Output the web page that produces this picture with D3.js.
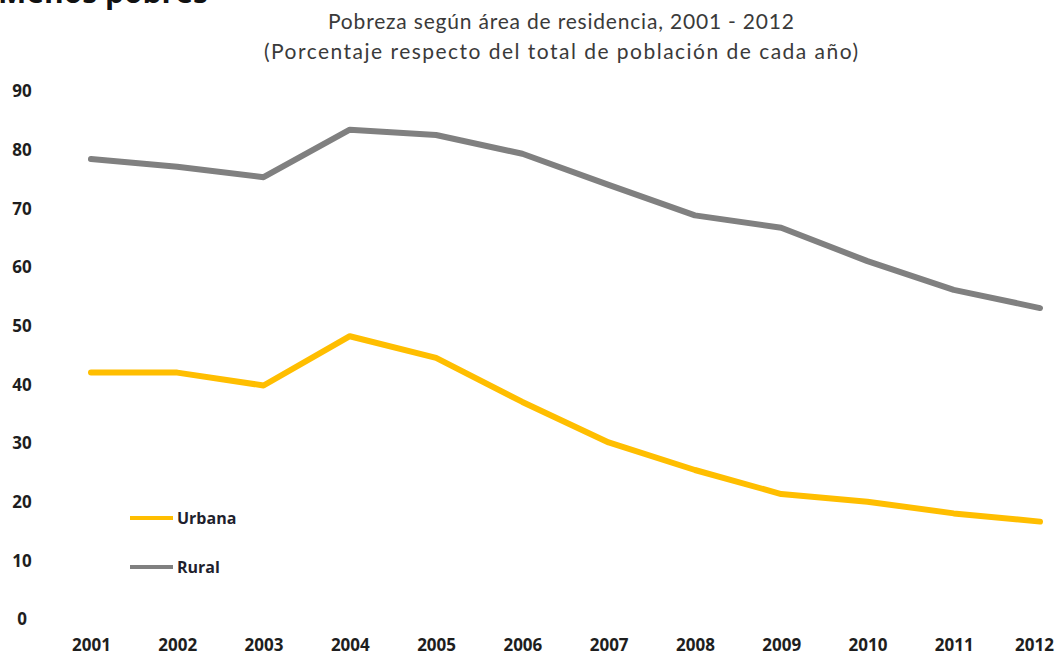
<!DOCTYPE html>
<html>
<head>
<meta charset="utf-8">
<script src="https://cdn.jsdelivr.net/npm/d3@7"></script>
<style>
  body { margin: 0; background: #fff; }
  svg { display: block; }
</style>
</head>
<body>
<svg id="chart"></svg>
<script>
// data
var years = [2001, 2002, 2003, 2004, 2005, 2006, 2007, 2008, 2009, 2010, 2011, 2012];
var urbana = [42.0, 42.0, 39.8, 48.2, 44.5, 37.0, 30.1, 25.4, 21.3, 20.0, 18.0, 16.6];
var rural = [78.4, 77.1, 75.3, 83.4, 82.5, 79.3, 74.0, 68.8, 66.7, 61.0, 56.1, 53.0];
var yTicks = [0, 10, 20, 30, 40, 50, 60, 70, 80, 90];
var seriesNames = ['Urbana', 'Rural'];

var W = 1061, H = 659;

var svg = d3.select('#chart')
  .attr('width', W)
  .attr('height', H);

var x = d3.scalePoint()
  .domain(years)
  .range([91, 1040]);

var y = d3.scaleLinear()
  .domain([0, 90])
  .range([619, 91]);

// heading, cut off at the top like in the source image
svg.append('text')
  .attr('x', -2)
  .attr('y', 3)
  .style('font-family', 'Open Sans, sans-serif')
  .style('font-weight', 'bold')
  .style('font-size', '30px')
  .attr('fill', '#111')
  .text('Menos pobres');

// titles
svg.append('text')
  .attr('x', 561)
  .attr('y', 29)
  .attr('text-anchor', 'middle')
  .attr('textLength', 466)
  .style('font-family', 'Lato, sans-serif')
  .style('font-size', '21px')
  .attr('fill', '#3a3a3a')
  .text('Pobreza según área de residencia, 2001 - 2012');

svg.append('text')
  .attr('x', 561)
  .attr('y', 59)
  .attr('text-anchor', 'middle')
  .attr('textLength', 594)
  .style('font-family', 'Lato, sans-serif')
  .style('font-size', '21px')
  .attr('fill', '#3a3a3a')
  .text('(Porcentaje respecto del total de población de cada año)');

// y axis labels (no line, no ticks)
var yAxis = d3.axisLeft(y).tickValues(yTicks).tickSize(0).tickPadding(0);
var gy = svg.append('g')
  .attr('transform', 'translate(22,0)')
  .call(yAxis);
gy.select('.domain').remove();
gy.selectAll('text')
  .attr('text-anchor', 'middle')
  .attr('dy', '0.35em')
  .style('font-family', 'Open Sans, sans-serif')
  .style('font-weight', 'bold')
  .style('font-size', '17px')
  .attr('fill', '#1e1e1e');

// x axis labels
var xAxis = d3.axisBottom(x).tickSize(0).tickPadding(0);
var gx = svg.append('g')
  .attr('transform', 'translate(0,639)')
  .call(xAxis);
gx.select('.domain').remove();
gx.selectAll('text')
  .attr('dy', '0.71em')
  .attr('x', function(d){ return d === 2012 ? -6 : 0; })
  .style('font-family', 'Open Sans, sans-serif')
  .style('font-weight', 'bold')
  .style('font-size', '17px')
  .attr('fill', '#1e1e1e');

var line = d3.line()
  .x(function(d, i){ return x(years[i]); })
  .y(function(d){ return y(d); });

var colors = { Urbana: '#FFBE00', Rural: '#808080' };

svg.append('path')
  .datum(rural)
  .attr('d', line)
  .attr('fill', 'none')
  .attr('stroke', colors.Rural)
  .attr('stroke-width', 6)
  .attr('stroke-linecap', 'round')
  .attr('stroke-linejoin', 'round');

svg.append('path')
  .datum(urbana)
  .attr('d', line)
  .attr('fill', 'none')
  .attr('stroke', colors.Urbana)
  .attr('stroke-width', 6)
  .attr('stroke-linecap', 'round')
  .attr('stroke-linejoin', 'round');

// legend
var leg = svg.selectAll('.leg')
  .data(seriesNames)
  .enter()
  .append('g')
  .attr('class', 'leg')
  .attr('transform', function(d, i){ return 'translate(130,' + (518 + i * 49) + ')'; });

leg.append('line')
  .attr('x1', 0)
  .attr('x2', 43)
  .attr('stroke', function(d){ return colors[d]; })
  .attr('stroke-width', 4);

leg.append('text')
  .attr('x', 47)
  .attr('dy', '0.35em')
  .style('font-family', 'Open Sans, sans-serif')
  .style('font-weight', 'bold')
  .style('font-size', '16px')
  .attr('fill', '#1f1f2e')
  .text(function(d){ return d; });
</script>
</body>
</html>
